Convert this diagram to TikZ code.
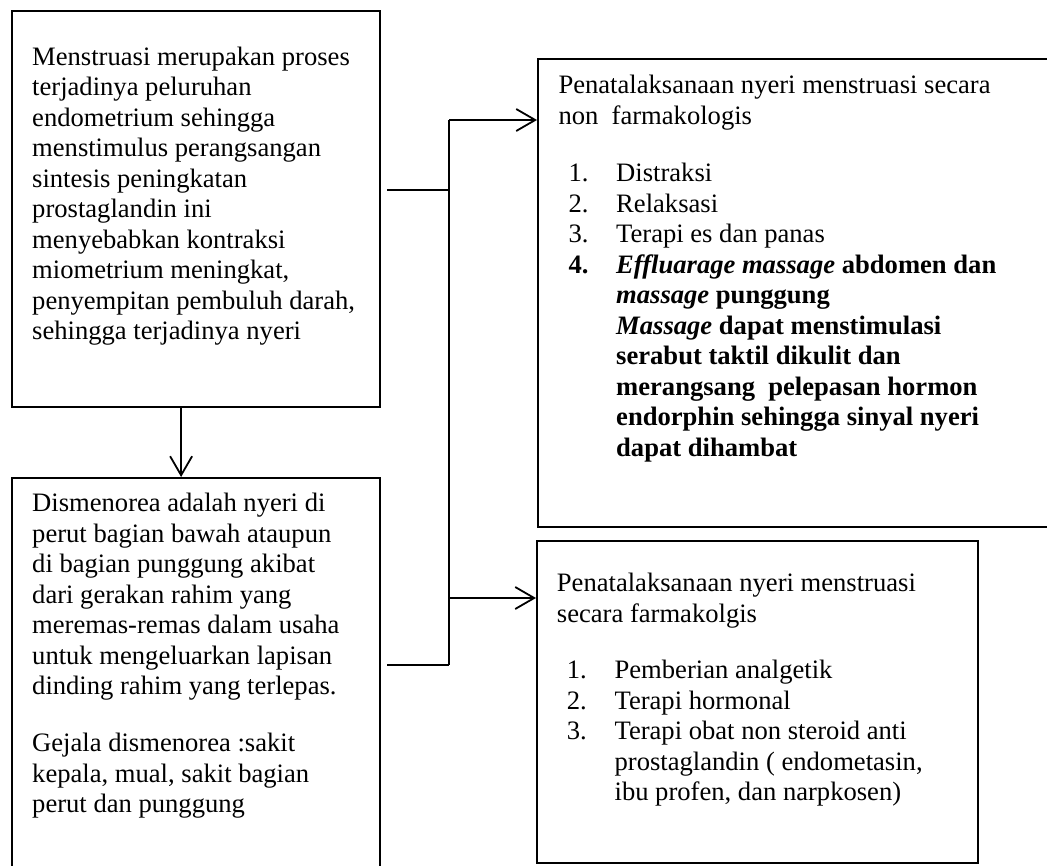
\documentclass[tikz,border=0pt]{standalone}
\usepackage{fontspec}
\setmainfont{Liberation Serif}
\usetikzlibrary{arrows.meta}
\tikzset{
  box/.style={draw, line width=2.2pt, rectangle, inner sep=0pt, anchor=north west},
  txt/.style={anchor=north west, inner sep=0pt, align=left, font=\fontsize{26.6}{30.5}\selectfont},
  conn/.style={line width=1.8pt},
  arr/.style={conn, -{Straight Barb[length=19pt,width=22pt]}},
}
\newcommand{\numA}[1]{\makebox[47.7pt][l]{#1}}
\newcommand{\st}{\rule{0pt}{20pt}}
\begin{document}
\begin{tikzpicture}[x=1pt,y=-1pt]
\useasboundingbox (0,0) rectangle (1047,865);
% boxes
\node[box, minimum width=368pt, minimum height=396pt] (A) at (11,10) {};
\node[box, minimum width=368pt, minimum height=420pt] (B) at (11,477) {};
\node[box, minimum width=600pt, minimum height=468pt] (C) at (537,58) {};
\node[box, minimum width=441pt, minimum height=322pt] (D) at (536,540) {};
% texts
\node[txt] (At) at (32,45) {\st Menstruasi merupakan proses\\
terjadinya peluruhan\\
endometrium sehingga\\
menstimulus perangsangan\\
sintesis peningkatan\\
prostaglandin ini\\
menyebabkan kontraksi\\
miometrium meningkat,\\
penyempitan pembuluh darah,\\
sehingga terjadinya nyeri};
\node[txt] (Bt1) at (32,491.7) {\st Dismenorea adalah nyeri di\\
perut bagian bawah ataupun\\
di bagian punggung akibat\\
dari gerakan rahim yang\\
meremas-remas dalam usaha\\
untuk mengeluarkan lapisan\\
dinding rahim yang terlepas.};
\node[txt] (Bt2) at (32,731.7) {\st Gejala dismenorea :sakit\\
kepala, mual, sakit bagian\\
perut dan punggung};
\node[txt] (Ct1) at (558.3,73.3) {\st Penatalaksanaan nyeri menstruasi secara\\
non\ \ farmakologis};
\node[txt] (Ct2) at (568.3,161.7) {\st\numA{1.}Distraksi\\
\numA{2.}Relaksasi\\
\numA{3.}Terapi es dan panas\\
\numA{\textbf{4.}}\textbf{\textit{Effluarage massage}} \textbf{abdomen dan}\\
\numA{}\textbf{\textit{massage}} \textbf{punggung}\\
\numA{}\textbf{\textit{Massage}} \textbf{dapat menstimulasi}\\
\numA{}\textbf{serabut taktil dikulit dan}\\
\numA{}\textbf{merangsang\ \ pelepasan hormon}\\
\numA{}\textbf{endorphin sehingga sinyal nyeri}\\
\numA{}\textbf{dapat dihambat}};
\node[txt] (Dt1) at (556.7,571.7) {\st Penatalaksanaan nyeri menstruasi\\
secara farmakolgis};
\node[txt] (Dt2) at (566.7,658.3) {\st\numA{1.}Pemberian analgetik\\
\numA{2.}Terapi hormonal\\
\numA{3.}Terapi obat non steroid anti\\
\numA{}prostaglandin ( endometasin,\\
\numA{}ibu profen, dan narpkosen)};
% connectors
\coordinate (ja) at (449,190);
\coordinate (jb) at (449,665);
\coordinate (jc) at (449,120);
\coordinate (jd) at (449,598);
\draw[arr] ([xshift=-15pt]A.south) -- ([xshift=-15pt]B.north);
\draw[conn] (A.east |- ja) ++(6,0) -- (ja);
\draw[conn] (B.east |- jb) ++(6,0) -- (jb);
\draw[conn] (jc) -- (jb);
\draw[arr] (jc) -- (C.west |- jc);
\draw[arr] (jd) -- (D.west |- jd);
\end{tikzpicture}
\end{document}
